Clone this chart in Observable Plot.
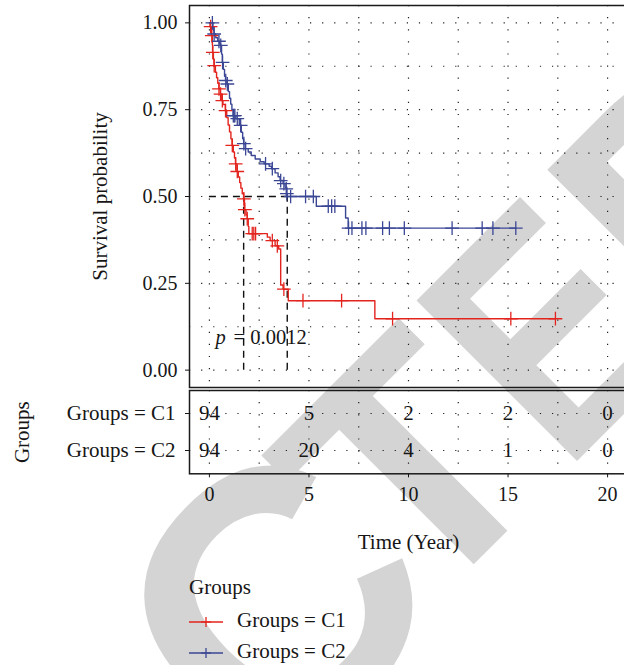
<!DOCTYPE html>
<html><head><meta charset="utf-8">
<script src="https://cdn.jsdelivr.net/npm/d3@7"></script>
<script src="https://cdn.jsdelivr.net/npm/@observablehq/plot@0.6"></script>
<style>
html,body{margin:0;padding:0;overflow:hidden;background:#fff;width:624px;height:665px;}
#wm{position:absolute;left:0;top:0;}
#wm text{font-family:"Liberation Sans",Arial,sans-serif;font-weight:bold;font-size:330px;fill:#d4d4d4;font-kerning:none;}
#main{position:absolute;left:0;top:0;}
#risk{position:absolute;left:0;top:386px;}
.lg{position:absolute;font-family:"Liberation Serif","Times New Roman",serif;font-size:21px;color:#161616;line-height:24px;white-space:nowrap;}
.lg svg{vertical-align:middle;}
</style></head><body>
<svg id="wm" width="624" height="665"><g transform="translate(-553,1591) rotate(-45)">
<text transform="translate(1281,-119) scale(1.12) translate(-1281,119)" x="1163" y="0">C</text>
<text x="1375" y="0">T</text>
<text transform="translate(1580,0) scale(0.82,1)" x="0" y="0">E</text>
<text x="1761" y="0">D</text>
</g></svg>
<div id="main"></div>
<div id="risk"></div>
<div id="legend"></div>
<script>
// ---------- data ----------
const groups = ["Groups = C1", "Groups = C2"];
const groupColors = ["#e3241e", "#3b4795"];

// Kaplan-Meier steps, group C1
const c1Time = [0, 0.03, 0.10, 0.15, 0.16, 0.20, 0.23, 0.30, 0.36, 0.42, 0.48, 0.55, 0.62, 0.68, 0.80, 0.87, 0.94, 1.01, 1.08, 1.14, 1.20, 1.26, 1.31, 1.38, 1.45, 1.52, 1.58, 1.65, 1.72, 1.76, 1.84, 1.90, 1.95, 1.98, 2.91, 3.05, 3.30, 3.48, 3.58, 3.70, 3.96, 8.31, 17.38];
const c1Surv = [1.000, 0.989, 0.963, 0.936, 0.915, 0.896, 0.877, 0.858, 0.842, 0.826, 0.810, 0.795, 0.776, 0.765, 0.747, 0.727, 0.706, 0.686, 0.666, 0.647, 0.628, 0.611, 0.594, 0.572, 0.556, 0.540, 0.524, 0.508, 0.493, 0.462, 0.447, 0.436, 0.414, 0.393, 0.383, 0.373, 0.358, 0.349, 0.245, 0.233, 0.200, 0.148, 0.148];
const c1Censor = [0.06, 0.12, 0.17, 0.24, 0.48, 0.56, 0.65, 0.81, 1.15, 1.32, 1.40, 1.73, 1.78, 1.90, 2.15, 2.23, 2.32, 3.16, 3.41, 3.74, 4.70, 6.64, 9.20, 15.14, 17.38];

// Kaplan-Meier steps, group C2
const c2Time = [0, 0.18, 0.21, 0.23, 0.32, 0.42, 0.50, 0.56, 0.61, 0.65, 0.70, 0.76, 0.81, 0.88, 0.95, 1.01, 1.07, 1.13, 1.19, 1.33, 1.50, 1.60, 1.67, 1.72, 1.80, 1.95, 2.10, 2.30, 2.55, 2.75, 3.00, 3.12, 3.30, 3.45, 3.55, 3.70, 3.80, 3.85, 3.88, 3.91, 5.37, 6.84, 6.97, 15.39];
const c2Surv = [1.000, 0.989, 0.978, 0.968, 0.957, 0.947, 0.940, 0.935, 0.910, 0.886, 0.866, 0.846, 0.834, 0.824, 0.802, 0.783, 0.766, 0.750, 0.733, 0.724, 0.705, 0.685, 0.666, 0.652, 0.638, 0.628, 0.618, 0.608, 0.600, 0.594, 0.587, 0.580, 0.568, 0.557, 0.546, 0.537, 0.527, 0.522, 0.508, 0.500, 0.472, 0.438, 0.409, 0.409];
const c2Censor = [0.15, 0.24, 0.48, 0.57, 0.66, 0.82, 0.90, 1.20, 1.24, 1.28, 1.40, 1.57, 1.73, 1.82, 2.82, 3.16, 3.58, 3.74, 3.86, 3.89, 4.08, 4.83, 5.22, 5.97, 6.14, 6.30, 6.99, 7.16, 7.66, 7.86, 8.70, 9.04, 9.79, 12.19, 13.70, 14.24, 15.39];

const medianTimes = [1.72, 3.91];
const pLabel = "p";
const pValueText = "= 0.0012";

const riskTimes = [0, 5, 10, 15, 20];
const riskC1 = [94, 5, 2, 2, 0];
const riskC2 = [94, 20, 4, 1, 0];

const xTicks = [0, 5, 10, 15, 20];
const xGrid = [0, 2.5, 5, 7.5, 10, 12.5, 15, 17.5, 20];
const yTicks = [0, 0.25, 0.5, 0.75, 1];
const yGrid = [0, 0.125, 0.25, 0.375, 0.5, 0.625, 0.75, 0.875, 1];

const yLabel = "Survival probability";
const xLabel = "Time (Year)";
const legendTitle = "Groups";

// ---------- tables built from the arrays ----------
const curves = [[c1Time, c1Surv], [c2Time, c2Surv]];
const lineData = [];
curves.forEach(([T, S], gi) => T.forEach((t, i) => lineData.push({t, s: S[i], g: groups[gi]})));
function survAt(T, S, t) { const i = d3.bisectRight(T, t) - 1; return S[Math.max(0, i)]; }
const censorData = [];
[c1Censor, c2Censor].forEach((C, gi) => C.forEach(t => censorData.push({t, s: survAt(curves[gi][0], curves[gi][1], t), g: groups[gi]})));
const riskData = [];
[riskC1, riskC2].forEach((R, gi) => R.forEach((n, i) => riskData.push({t: riskTimes[i], n: String(n), g: groups[gi]})));

// ---------- styling ----------
const font = '"Liberation Serif", "Times New Roman", serif';
const W = 640, ML = 189, MR = 13;
const xDomain = [-1, 21];
const dotted = {stroke: "#1e1e1e", strokeOpacity: 1, strokeWidth: 1.2, strokeDasharray: "1.2,10.9"};
const svgStyle = {fontFamily: font, background: "none", maxWidth: "none", overflow: "visible", color: "#161616"};

const main = Plot.plot({
  width: W, height: 390, marginLeft: ML, marginRight: MR, marginTop: 5, marginBottom: 3,
  style: svgStyle,
  x: {domain: xDomain, axis: null},
  y: {domain: [-0.05, 1.05], axis: null},
  color: {domain: groups, range: groupColors},
  marks: [
    Plot.gridX(xGrid, dotted),
    Plot.gridY(yGrid, dotted),
    Plot.ruleY([0.5], {x1: 0, x2: medianTimes[1], stroke: "#111", strokeWidth: 1.4, strokeDasharray: "7,5"}),
    Plot.ruleX(medianTimes, {y1: 0, y2: 0.5, stroke: "#111", strokeWidth: 1.4, strokeDasharray: "7,5"}),
    Plot.line(lineData, {x: "t", y: "s", z: "g", stroke: "g", curve: "step-after", strokeWidth: 1.4}),
    Plot.dot(censorData, {x: "t", y: "s", stroke: "g", symbol: "plus", r: 4.5, strokeWidth: 1.3}),
    Plot.text([pLabel], {x: 0.31, y: 0.095, text: d => d, fontStyle: "italic", textAnchor: "start", fontSize: 20.5}),
    Plot.text([pValueText], {x: 0.31, y: 0.095, dx: 18, text: d => d, textAnchor: "start", fontSize: 20.5}),
    Plot.frame({stroke: "#1a1a1a", strokeWidth: 1.5}),
    Plot.axisY(yTicks, {tickSize: 4, tickPadding: 8, tickFormat: d3.format(".2f"), fontSize: 20, label: null}),
    Plot.text([yLabel], {frameAnchor: "left", dx: -89, rotate: -90, text: d => d, textAnchor: "middle", lineAnchor: "middle", fontSize: 21})
  ]
});
document.getElementById("main").appendChild(main);

const risk = Plot.plot({
  width: W, height: 170, marginLeft: ML, marginRight: MR, marginTop: 4, marginBottom: 82.7,
  style: svgStyle,
  x: {domain: xDomain, axis: null},
  y: {type: "point", domain: groups, padding: 0.6, axis: null},
  marks: [
    Plot.gridX(xGrid, dotted),
    Plot.gridY(groups, dotted),
    Plot.text(riskData, {x: "t", y: "g", text: "n", fontSize: 21}),
    Plot.frame({stroke: "#1a1a1a", strokeWidth: 1.5}),
    Plot.axisY(groups, {tickSize: 4, tickPadding: 10, fontSize: 21, label: null}),
    Plot.axisX(xTicks, {tickSize: 4, tickPadding: 9, fontSize: 20, label: null}),
    Plot.text([xLabel], {frameAnchor: "bottom", dy: 68, text: d => d, textAnchor: "middle", lineAnchor: "middle", fontSize: 21}),
    Plot.text([legendTitle], {frameAnchor: "left", dx: -167, rotate: -90, text: d => d, textAnchor: "middle", lineAnchor: "middle", fontSize: 21})
  ]
});
document.getElementById("risk").appendChild(risk);

// ---------- legend ----------
const lg = document.getElementById("legend");
const title = document.createElement("div");
title.className = "lg"; title.style.left = "189px"; title.style.top = "575px"; title.textContent = legendTitle;
lg.appendChild(title);
groups.forEach((g, i) => {
  const d = document.createElement("div");
  d.className = "lg"; d.style.left = "189px"; d.style.top = (608 + i * 30.7) + "px";
  d.innerHTML = `<svg width="35" height="24"><line x1="0" x2="34" y1="12" y2="12" stroke="${groupColors[i]}" stroke-width="1.3"/><line x1="17" x2="17" y1="7" y2="17" stroke="${groupColors[i]}" stroke-width="1.3"/><line x1="12" x2="22" y1="12" y2="12" stroke="${groupColors[i]}" stroke-width="1.3"/></svg><span style="margin-left:13px">${g}</span>`;
  lg.appendChild(d);
});
</script>
</body></html>
